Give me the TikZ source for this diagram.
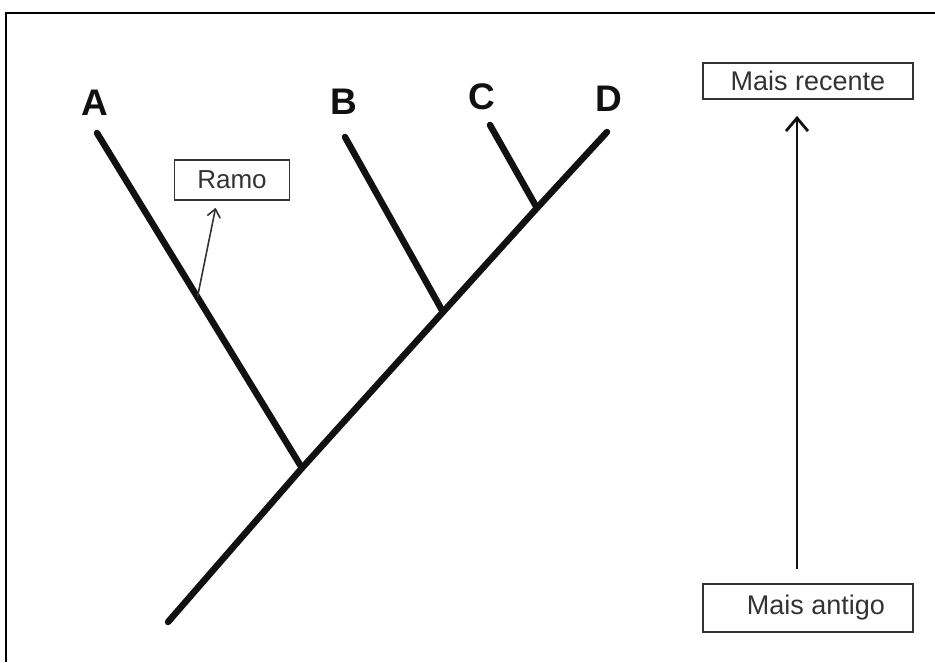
\documentclass[tikz,border=0pt]{standalone}
\usepackage{fontspec}
\setmainfont{Liberation Sans}
\usetikzlibrary{arrows.meta,positioning,calc}
\definecolor{tinta}{HTML}{111111}
\definecolor{grisT}{HTML}{333333}
\tikzset{
  galho/.style={line width=6.5pt, line cap=round, draw=tinta},
  caixa/.style={rectangle, draw=grisT, line width=1.8pt, fill=white, text=grisT,
                font=\fontsize{27}{30}\selectfont, inner sep=0pt},
  letra/.style={font=\fontsize{37}{40}\selectfont\bfseries, text=tinta, inner sep=0pt},
  arr/.style={-{Straight Barb[length=13pt, width=22pt]}, line width=2.8pt, draw=tinta},
  arrfino/.style={-{Straight Barb[length=8pt, width=13pt]}, line width=1.6pt, draw=grisT},
}
\begin{document}
\begin{tikzpicture}[x=1pt, y=-1pt]
  \useasboundingbox (0,0) rectangle (935,662);
  % moldura
  \draw[line width=1.8pt] (6,662) -- (6,13) -- (935,13);

  % arvore
  \coordinate (raiz) at (168,622);
  \coordinate (nA) at (302,468);
  \coordinate (nB) at (443,312);
  \coordinate (nC) at (537,208);
  \coordinate (tA) at (97,133);
  \coordinate (tB) at (345,137);
  \coordinate (tC) at (490,125);
  \coordinate (tD) at (607,132);
  \draw[galho] (raiz) -- (nA) -- (nB) -- (nC) -- (tD);
  \draw[galho] (nA) -- (tA);
  \draw[galho] (nB) -- (tB);
  \draw[galho] (nC) -- (tC);

  \node[letra] (A) at (95,103) {A};
  \node[letra] (B) at (344,102) {B};
  \node[letra] (C) at (482,97) {C};
  \node[letra] (D) at (609,99) {D};

  % ramo
  \node[caixa, font=\fontsize{26}{28}\selectfont, minimum width=115pt, minimum height=40pt] (ramo) at (232,180) {Ramo};
  \coordinate (pA) at ($(tA)!0.49!(nA)$);
  \draw[arrfino, shorten >=7pt] (pA) -- ([xshift=-15pt]ramo.south);

  % escala de tempo
  \node[caixa, minimum width=210pt, minimum height=36pt] (recente) at (808,81) {Mais recente};
  \node[caixa, minimum width=210pt, minimum height=48pt] (antigo) at (808,608) {\hspace*{16pt}Mais antigo};
  \draw[arr, shorten <=14pt, shorten >=16pt] ([xshift=-11pt]antigo.north) -- ([xshift=-11pt]recente.south);
\end{tikzpicture}
\end{document}
